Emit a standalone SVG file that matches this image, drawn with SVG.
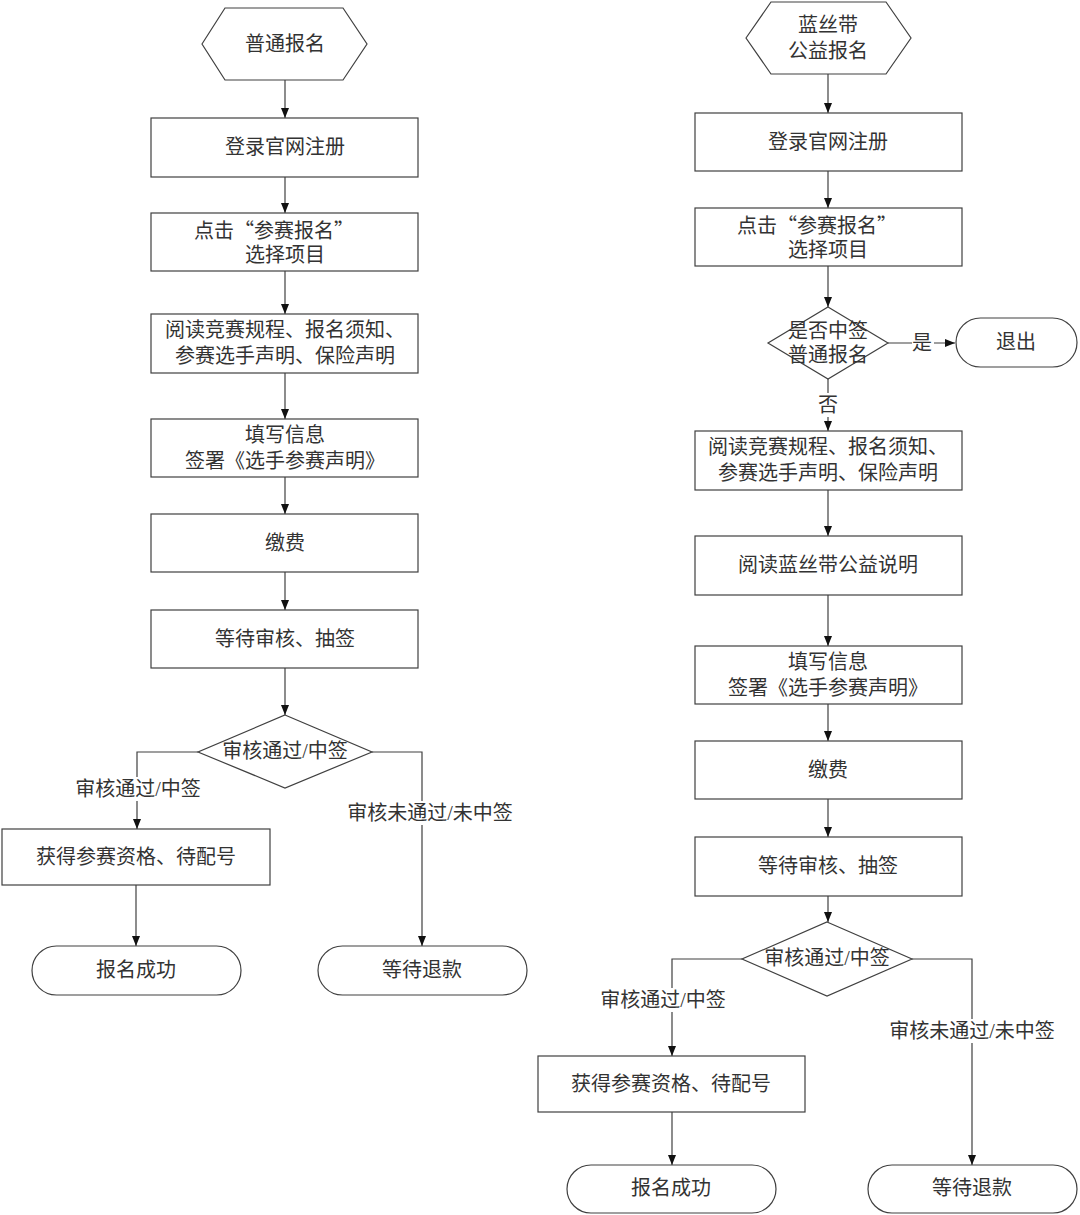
<svg xmlns="http://www.w3.org/2000/svg" width="1080" height="1215" viewBox="0 0 1080 1215">
<defs>
<style>
.n{fill:#fff;stroke:#404040;stroke-width:1.2}
.t{font-family:"Liberation Serif","Noto Sans CJK SC",serif;font-size:20px;fill:#333;text-anchor:middle;dominant-baseline:central}
.q{font-family:"Noto Sans CJK SC",sans-serif}
.c{fill:none;stroke:#404040;stroke-width:1.2;marker-end:url(#ah)}
.bg{fill:#fff;stroke:none}
</style>
<marker id="ah" markerUnits="userSpaceOnUse" markerWidth="10" markerHeight="10" refX="10" refY="5" orient="auto" viewBox="0 0 10 10">
<path d="M0,1 L10,5 L0,9 z" fill="#111"/>
</marker>
</defs>
<rect width="1080" height="1215" fill="#fff"/>
<g id="connectors">
<path class="c" d="M285,80 V118"/>
<path class="c" d="M285,177 V213"/>
<path class="c" d="M285,271 V314"/>
<path class="c" d="M285,373 V419"/>
<path class="c" d="M285,477 V514"/>
<path class="c" d="M285,572 V610"/>
<path class="c" d="M285,668 V715"/>
<path class="c" d="M198,752 H137 V829"/>
<path class="c" d="M372,752 H422 V946"/>
<path class="c" d="M136,885 V946"/>
<path class="c" d="M828,74 V113"/>
<path class="c" d="M828,171 V208"/>
<path class="c" d="M828,266 V307"/>
<path class="c" d="M888,343 H955"/>
<path class="c" d="M828,379 V431"/>
<path class="c" d="M828,490 V536"/>
<path class="c" d="M828,595 V646"/>
<path class="c" d="M828,704 V741"/>
<path class="c" d="M828,799 V837"/>
<path class="c" d="M828,896 V922"/>
<path class="c" d="M742,959 H672 V1056"/>
<path class="c" d="M912,959 H972 V1165"/>
<path class="c" d="M672,1112 V1165"/>
<rect class="bg" x="70" y="777" width="136" height="24"/>
<text class="t" x="138" y="789">审核通过/中签</text>
<rect class="bg" x="342" y="801" width="176" height="24"/>
<text class="t" x="430" y="813">审核未通过/未中签</text>
<rect class="bg" x="912" y="331" width="22" height="24"/>
<text class="t" x="922" y="343">是</text>
<rect class="bg" x="817" y="393" width="22" height="24"/>
<text class="t" x="828" y="405">否</text>
<rect class="bg" x="595" y="988" width="136" height="24"/>
<text class="t" x="663" y="1000">审核通过/中签</text>
<rect class="bg" x="884" y="1019" width="176" height="24"/>
<text class="t" x="972" y="1031">审核未通过/未中签</text>
</g>
<g id="l-start"><polygon class="n" points="202,44 225,8 343,8 367,44 343,80 225,80"/><text class="t" x="285" y="44">普通报名</text></g>
<g id="l-register"><rect class="n" x="151" y="118" width="267" height="59"/><text class="t" x="285" y="147">登录官网注册</text></g>
<g id="l-click"><rect class="n" x="151" y="213" width="267" height="58"/><text class="t q" x="274" y="229">点击“参赛报名”</text><text class="t" x="285" y="255">选择项目</text></g>
<g id="l-read"><rect class="n" x="151" y="314" width="267" height="59"/><text class="t" x="285" y="330">阅读竞赛规程、报名须知、</text><text class="t" x="285" y="356">参赛选手声明、保险声明</text></g>
<g id="l-fill"><rect class="n" x="151" y="419" width="267" height="58"/><text class="t" x="285" y="435">填写信息</text><text class="t" x="285" y="461">签署《选手参赛声明》</text></g>
<g id="l-pay"><rect class="n" x="151" y="514" width="267" height="58"/><text class="t" x="285" y="543">缴费</text></g>
<g id="l-wait"><rect class="n" x="151" y="610" width="267" height="58"/><text class="t" x="285" y="639">等待审核、抽签</text></g>
<g id="l-decide"><polygon class="n" points="285,715 372,752 285,788 198,752"/><text class="t" x="285" y="751">审核通过/中签</text></g>
<g id="l-qualify"><rect class="n" x="2" y="829" width="268" height="56"/><text class="t" x="136" y="857">获得参赛资格、待配号</text></g>
<g id="l-success"><rect class="n" x="32" y="946" width="209" height="49" rx="24.5"/><text class="t" x="136" y="970">报名成功</text></g>
<g id="l-refund"><rect class="n" x="318" y="946" width="209" height="49" rx="24.5"/><text class="t" x="422" y="970">等待退款</text></g>
<g id="r-start"><polygon class="n" points="746,38 771,2 886,2 911,38 886,74 771,74"/><text class="t" x="828" y="25">蓝丝带</text><text class="t" x="828" y="51">公益报名</text></g>
<g id="r-register"><rect class="n" x="695" y="113" width="267" height="58"/><text class="t" x="828" y="142">登录官网注册</text></g>
<g id="r-click"><rect class="n" x="695" y="208" width="267" height="58"/><text class="t q" x="817" y="224">点击“参赛报名”</text><text class="t" x="828" y="250">选择项目</text></g>
<g id="r-check"><polygon class="n" points="828,307 888,343 828,379 768,343"/><text class="t" x="828" y="331">是否中签</text><text class="t" x="828" y="355">普通报名</text></g>
<g id="r-exit"><rect class="n" x="956" y="318" width="121" height="49" rx="24.5"/><text class="t" x="1016" y="342">退出</text></g>
<g id="r-read"><rect class="n" x="695" y="431" width="267" height="59"/><text class="t" x="828" y="447">阅读竞赛规程、报名须知、</text><text class="t" x="828" y="473">参赛选手声明、保险声明</text></g>
<g id="r-ribbon"><rect class="n" x="695" y="536" width="267" height="59"/><text class="t" x="828" y="565">阅读蓝丝带公益说明</text></g>
<g id="r-fill"><rect class="n" x="695" y="646" width="267" height="58"/><text class="t" x="828" y="662">填写信息</text><text class="t" x="828" y="688">签署《选手参赛声明》</text></g>
<g id="r-pay"><rect class="n" x="695" y="741" width="267" height="58"/><text class="t" x="828" y="770">缴费</text></g>
<g id="r-wait"><rect class="n" x="695" y="837" width="267" height="59"/><text class="t" x="828" y="866">等待审核、抽签</text></g>
<g id="r-decide"><polygon class="n" points="827,922 912,959 827,996 742,959"/><text class="t" x="827" y="958">审核通过/中签</text></g>
<g id="r-qualify"><rect class="n" x="538" y="1056" width="267" height="56"/><text class="t" x="671" y="1084">获得参赛资格、待配号</text></g>
<g id="r-success"><rect class="n" x="567" y="1165" width="209" height="48" rx="24"/><text class="t" x="671" y="1188">报名成功</text></g>
<g id="r-refund"><rect class="n" x="868" y="1165" width="209" height="48" rx="24"/><text class="t" x="972" y="1188">等待退款</text></g>
</svg>
